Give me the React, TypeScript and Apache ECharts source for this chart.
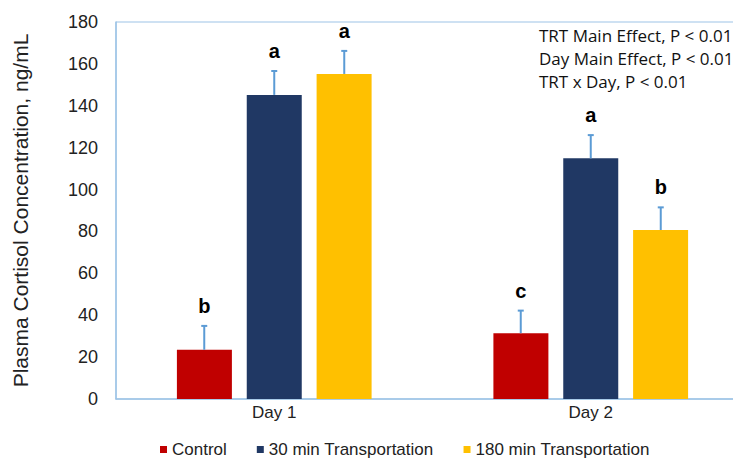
import React, { useEffect, useRef } from "react";
import * as echarts from "echarts";

const categories = ["Day 1", "Day 2"];
const seriesNames = ["Control", "30 min Transportation", "180 min Transportation"];
const controlValues = [23.5, 31.4];
const min30Values = [145.2, 114.9];
const min180Values = [155.2, 80.7];
const controlErr = [11.4, 10.8];
const min30Err = [11.4, 11.1];
const min180Err = [11.0, 10.8];
const controlLetters = ["b", "c"];
const min30Letters = ["a", "a"];
const min180Letters = ["a", "b"];
const yTicks = { min: 0, max: 180, interval: 20 };
const annotations = ["TRT Main Effect, P < 0.01", "Day Main Effect, P < 0.01", "TRT x Day, P < 0.01"];

const colors = ["#C00000", "#203864", "#FFC000"];
const BAR_W = 55;
const BAR_STEP = 70;
const FONT = "'Liberation Sans', Arial, sans-serif";

export default function App() {
  const ref = useRef<HTMLDivElement>(null);
  useEffect(() => {
    if (!ref.current) return;
    const chart = echarts.init(ref.current, null, { renderer: "svg" });
    const values = [controlValues, min30Values, min180Values];
    const errs = [controlErr, min30Err, min180Err];
    const letters = [controlLetters, min30Letters, min180Letters];

    const barSeries = values.map((v, i) => ({
      name: seriesNames[i],
      type: "bar",
      data: v,
      barWidth: BAR_W,
      barGap: "27%",
      itemStyle: { color: colors[i] },
    }));

    const errSeries = values.map((v, i) => ({
      type: "custom",
      data: v.map((val, k) => [k, val, errs[i][k]]),
      encode: { x: 0, y: 1 },
      z: 5,
      renderItem: (params: any, api: any) => {
        const idx = api.value(0);
        const val = api.value(1);
        const err = api.value(2);
        const letter = letters[i][idx];
        const base = api.coord([idx, val]);
        const top = api.coord([idx, val + err]);
        const x = base[0] + (i - 1) * BAR_STEP;
        return {
          type: "group",
          children: [
            {
              type: "line",
              shape: { x1: x, y1: base[1], x2: x, y2: top[1] },
              style: { stroke: "#5B9BD5", lineWidth: 2 },
            },
            {
              type: "line",
              shape: { x1: x - 3, y1: top[1], x2: x + 3, y2: top[1] },
              style: { stroke: "#5B9BD5", lineWidth: 2 },
            },
            {
              type: "text",
              x: x,
              y: top[1] - 20,
              style: {
                text: letter,
                fill: "#000",
                font: "bold 20px " + FONT,
                textAlign: "center",
                textVerticalAlign: "middle",
              },
            },
          ],
        };
      },
    }));

    chart.setOption({
      animation: false,
      backgroundColor: "#fff",
      grid: {
        left: 116,
        top: 22,
        width: 633,
        height: 377,
        outerBoundsMode: "none",
        containLabel: false,
        show: true,
        borderColor: "#9DC3E6",
        borderWidth: 1,
      },
      legend: {
        data: seriesNames,
        top: 436,
        left: 155,
        itemWidth: 7,
        itemHeight: 7,
        itemGap: 30,
        icon: "rect",
        textStyle: { fontFamily: FONT, fontSize: 17, color: "#222" },
      },
      xAxis: {
        type: "category",
        data: categories,
        axisLine: { lineStyle: { color: "#9DC3E6", width: 1.5 } },
        axisTick: { show: false },
        axisLabel: { fontFamily: FONT, fontSize: 17, color: "#222", margin: 5 },
      },
      yAxis: {
        type: "value",
        min: yTicks.min,
        max: yTicks.max,
        interval: yTicks.interval,
        name: "Plasma Cortisol Concentration, ng/mL",
        nameLocation: "middle",
        nameGap: 85,
        nameTextStyle: { fontFamily: FONT, fontSize: 21, color: "#222" },
        axisLine: { show: true, lineStyle: { color: "#9DC3E6", width: 1.5 } },
        axisTick: { show: false },
        splitLine: { show: false },
        axisLabel: { fontFamily: FONT, fontSize: 18, color: "#222", margin: 18 },
      },
      graphic: annotations.map((t, k) => ({
        type: "text",
        left: 539,
        top: 27 + k * 23,
        style: { text: t, fill: "#111", font: "17px 'Open Sans', 'Noto Sans', sans-serif" },
      })),
      series: [...barSeries, ...errSeries],
    });
    return () => chart.dispose();
  }, []);
  return <div ref={ref} style={{ position: "fixed", left: 0, top: 0, width: 733, height: 459 }} />;
}
